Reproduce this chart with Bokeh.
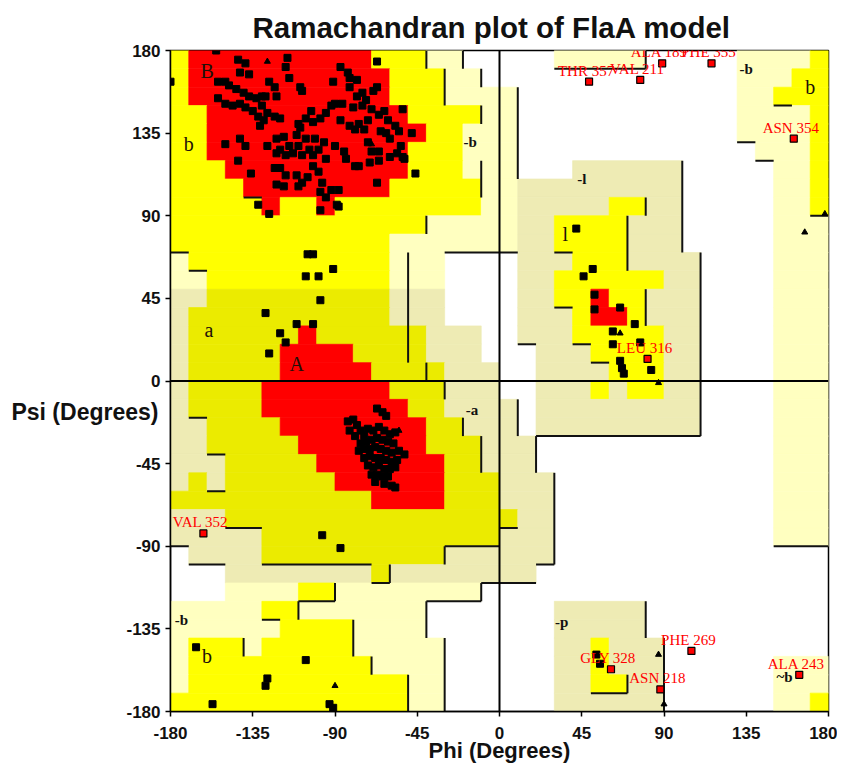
from bokeh.plotting import figure
from bokeh.models import FixedTicker, Span, PrintfTickFormatter
from bokeh.core.properties import value
from bokeh.embed import file_html
from bokeh.resources import INLINE

title_text = "Ramachandran plot of FlaA model"
x_label = "Phi (Degrees)"
y_label = "Psi (Degrees)"
ticks = [-180, -135, -90, -45, 0, 45, 90, 135, 180]

# 10-degree region map, top row = psi 170..180, columns phi -180..180
# R core, Y allowed, D allowed (tinted band), C generous, K generous (tinted), . disallowed
region_rows = [
    "YRRRRRRRRRRYYYCC.....CCCCC.....CCCCY",
    "YRRRRRRRRRRRYYYCC..............CCCYY",
    "YRRRRRRRRRRRYYYCCCC............CCYYY",
    "YYRRRRRRRRRRRYYYYCC............CCCCY",
    "YYRRRRRRRRRRRRYYCCC............CCCCY",
    "YYRRRRRRRRRRRYYYCCC.............CCCY",
    "YYYRRRRRRRRRRYYYCCC...KKKKKK.....CCY",
    "YYYYRRRRRRRRYYYYYCCKKKKKKKKK.....CCY",
    "YYYYYRYYRYYYYYYYYCCKKKKKYYKK.....CCY",
    "YYYYYYYYYYYYYYCCCCCKKYYYYKKK.....CCC",
    "YYYYYYYYYYYYCCCCCCCKKYYYYKKK.....CCC",
    "CYYYYYYYYYYYCCC....KKKYYYKKKK....CCC",
    "CCYYYYYYYYYYCCC....KKYYYYYYKK....CCC",
    "KKDDDDDDDDDDKKK....KKYYRYYKKK....CCC",
    "KDDDDDDDDDDDKKK....KKKYRRYKKK....CCC",
    "KDDDDDDRDDDDDDKKK..KKKYYYYYKK....CCC",
    "KDDDDDRRRRDDDDKKK...KKKYYYYKK....CCC",
    "KDDDDDRRRRRDDDDKKK..KKKKYYYKK....CCC",
    "KDDDDRRRRRRRDDDKKK..KKKYKYYKK....CCC",
    "KDDDDRRRRRRRRDDKKKK.KKKKKKKKK....CCC",
    "KKDDDDRRRRRRRRDDKKK.KKKKKKKKK....CCC",
    "KKDDDDDRRRRRRRDDDKKK.............CCC",
    "KKKDDDDDRRRRRRRDDKKK.............CCC",
    "KDKDDDDDDRRRRRRDDDKKK............CCC",
    "DDDDDDDDDDDRRRRDDDKKK............CCC",
    "KKKDDDDDDDDDDDDDDDDKK............CCC",
    "KKKKKDDDDDDDDDDDDDKKK............CCC",
    ".KKKKDDDDDDDDDDKKKKKK...............",
    "...KKKKKKKKDKKKKKKKK................",
    "...CCCCYYCCCCCCCC...................",
    "CCCCCYYCCCCCCC.......KKKKK..........",
    "CCCCCCYYYYCCCC.......KKKKK..........",
    "CYYYCYYYYYCCCCC......KKYKKK.........",
    "CYYYYYYYYYYCCCC......KKYKKK......CCC",
    "CYYYYYYYYYYYYCC......KKYYKK......CCC",
    "YYYYYYYYYYYYYCC......KKKKKK......CCY",
]
region_colors = {"R": "#FF0000", "Y": "#FFFF00", "D": "#EBEB00",
                 "C": "#FFFFC0", "K": "#EEEBB4"}

# boundary segments (phi0, psi0, phi1, psi1)
boundary_segments = [
    (-40, 180, -40, 170), (-20, 180, -20, 170), (-30, 170, -30, 150),
    (-10, 170, -10, 160), (-10, 150, -10, 140), (-10, 120, -10, 100),
    (-40, 90, -40, 80), (-30, 70, 0, 70), (-50, 70, -50, 10),
    (-180, 70, -170, 70), (-170, 60, -160, 60), (-140, 100, -130, 100),
    (-40, 10, -40, 0), (-30, 0, -30, -10), (-20, -20, -20, -30),
    (-10, -30, -10, -50), (-170, -20, -160, -20), (-160, -40, -150, -40),
    (-160, -60, -150, -60), (-150, -80, -130, -80), (-130, -100, -70, -100),
    (-170, -100, -150, -100), (-180, -90, -170, -90), (-60, -100, -60, -110),
    (-30, -90, -30, -100), (-40, -120, -10, -120), (-90, -110, -90, -120),
    (-110, -120, -110, -130),
    (-70, -110, -60, -110), (-30, -90, 0, -90), (-110, -120, -90, -120),
    (-130, -130, -120, -130), (-140, -140, -140, -150), (-80, -130, -80, -150),
    (-70, -150, -70, -160), (-50, -160, -50, -180), (-30, -140, -30, -180),
    (-40, -120, -40, -140), (-10, -110, 0, -110), (-10, -110, -10, -120),
    (0, 70, 10, 70), (10, 160, 10, 110), (70, 90, 70, 60), (80, 100, 80, 90),
    (80, 50, 80, 30), (100, 120, 100, 70), (110, 70, 110, -30), (20, -30, 110, -30),
    (30, 70, 40, 70), (30, 40, 40, 40), (40, 20, 50, 20), (50, 10, 60, 10),
    (130, 130, 140, 130),
    (140, 120, 150, 120), (150, 150, 160, 150), (170, 90, 180, 90),
    (150, -90, 180, -90), (10, -10, 10, -30), (20, -30, 20, -50),
    (30, -50, 30, -100), (20, -100, 30, -100), (0, -110, 20, -110),
    (0, -80, 10, -80), (80, -120, 80, -140), (90, -140, 90, -180),
    (50, -170, 70, -170), (70, -160, 70, -170), (30, 170, 80, 170),
    (80, 180, 80, 170), (10, 20, 20, 20),
]

# residues (phi, psi)
residues = [
    (-155, 180), (-180, 163), (-143, 175), (-139, 173), (-142, 168), (-137, 167),
    (-116, 176), (-117, 171), (-115, 165), (-154, 163), (-150, 163), (-148, 161),
    (-144, 159), (-140, 157), (-137, 155), (-133, 154), (-130, 155), (-126, 163),
    (-123, 160), (-128, 155), (-122, 155), (-154, 154), (-150, 151), (-146, 150),
    (-142, 151), (-139, 149), (-135, 147), (-130, 150), (-127, 146), (-123, 144),
    (-120, 143), (-132, 144), (-129, 142), (-131, 139), (-150, 129), (-142, 132),
    (-139, 128), (-143, 120), (-136, 113), (-127, 128), (-122, 132), (-120, 126),
    (-118, 133), (-115, 128), (-122, 124), (-117, 123), (-113, 124), (-110, 128),
    (-111, 134), (-110, 140), (-109, 138), (-106, 132), (-104, 126), (-108, 123),
    (-102, 123), (-99, 126), (-96, 130), (-101, 132), (-123, 116), (-120, 116),
    (-117, 112), (-111, 112), (-108, 108), (-102, 117), (-99, 114), (-95, 121),
    (-90, 128), (-84, 121), (-79, 117), (-85, 125), (-122, 107), (-118, 106),
    (-110, 106), (-105, 111), (-98, 103), (-95, 100), (-97, 108), (-92, 104),
    (-88, 104), (-132, 96), (-126, 91), (-98, 93), (-89, 96), (-88, 95),
    (-109, 160), (-108, 158), (-103, 147), (-106, 143), (-102, 141), (-98, 143),
    (-95, 146), (-92, 150), (-90, 151), (-91, 163), (-87, 171), (-83, 168),
    (-82, 165), (-78, 164), (-82, 160), (-78, 155), (-75, 157), (-73, 153),
    (-69, 158), (-67, 160), (-75, 150), (-80, 149), (-86, 151), (-87, 142),
    (-82, 139), (-79, 137), (-77, 140), (-74, 137), (-72, 142), (-70, 148),
    (-66, 145), (-63, 147), (-61, 142), (-57, 139), (-55, 136), (-53, 148),
    (-48, 135), (-65, 136), (-62, 135), (-60, 132), (-72, 130), (-70, 125),
    (-66, 125), (-77, 117), (-71, 119), (-66, 120), (-60, 122), (-56, 124),
    (-54, 128), (-53, 122), (-52, 121), (-67, 108), (-46, 113), (-67, 174),
    (-102, 69), (-105, 69), (-106, 57), (-99, 57), (-91, 61), (-98, 44),
    (-128, 37), (-111, 31), (-102, 31), (-120, 26), (-117, 21), (-126, 15),
    (-67, -15), (-64, -17), (-62, -19), (-83, -22), (-80, -21), (-78, -24),
    (-76, -27), (-82, -27), (-79, -30), (-74, -30), (-72, -26), (-69, -27),
    (-66, -25), (-63, -27), (-60, -29), (-57, -28), (-76, -34), (-73, -33),
    (-70, -32), (-67, -31), (-64, -32), (-61, -33), (-58, -34), (-77, -38),
    (-74, -37), (-71, -37), (-68, -36), (-65, -37), (-62, -38), (-59, -39),
    (-55, -38), (-52, -40), (-74, -42), (-71, -41), (-68, -42), (-65, -42),
    (-62, -43), (-59, -44), (-56, -43), (-72, -46), (-69, -47), (-66, -46),
    (-63, -48), (-60, -48), (-57, -47), (-70, -51), (-67, -51), (-64, -52),
    (-61, -52), (-68, -55), (-63, -56), (-59, -57), (-57, -58),
    (-97, -84), (-87, -91), (-166, -145), (-157, -176), (-128, -166),
    (-127, -162), (-106, -152), (-93, -176), (-91, -178),
    (42, 83), (51, 61), (46, 57), (52, 47), (52, 39), (66, 40), (74, 31),
    (62, 27), (62, 20), (77, 21), (66, 11), (67, 7), (68, 4), (83, 6),
    (53, -149), (55, -154),
]
glycines = [
    (-127, 174), (-78, 117), (-70, 129), (-55, -27), (-90, -166), (66, 26),
    (87, -1), (178, 91), (167, 81), (87, -149), (90, -176),
]
flagged_names = ["VAL 352", "THR 357", "VAL 211", "ALA 189", "PHE 355", "ASN 354",
                 "LEU 316", "GLY 328", "PHE 269", "ASN 218", "ALA 243"]
flagged_phi = [-162, 49, 77, 89, 116, 161, 81, 61, 105, 88, 164]
flagged_psi = [-83, 163, 164, 173, 173, 132, 12, -157, -147, -168, -160]

region_names = ["B", "b", "a", "A", "l", "b", "b"]
region_phi = [-160, -170, -159, -111, 36, 170, -160]
region_psi = [169, 129, 28, 9, 80, 160, -150]
minor_region_names = ["-b", "-a", "-l", "-b", "-b", "-p", "~b"]
minor_region_phi = [-16, -15, 45, 135, -174, 34, 156]
minor_region_psi = [130, -16, 110, 170, -130, -131, -161]

p = figure(frame_width=658, frame_height=661, x_range=(-180, 180), y_range=(-180, 180),
           output_backend="svg", toolbar_location=None,
           min_border_left=170, min_border_top=50, min_border_bottom=57, min_border_right=9,
           background_fill_color="white", border_fill_color="white")

# region cells, merged in horizontal runs
ql, qr, qt, qb, qc = [], [], [], [], []
for j, row in enumerate(region_rows):
    top = 180 - 10 * j
    k = 0
    while k < len(row):
        ch = row[k]
        k2 = k
        while k2 < len(row) and row[k2] == ch:
            k2 += 1
        if ch in region_colors:
            ql.append(-180 + 10 * k)
            qr.append(-180 + 10 * k2)
            qt.append(top)
            qb.append(top - 10)
            qc.append(region_colors[ch])
        k = k2
p.quad(left=ql, right=qr, top=qt, bottom=qb, fill_color=qc, line_color=qc, line_width=0.7)

p.segment(x0=[s[0] for s in boundary_segments], y0=[s[1] for s in boundary_segments],
          x1=[s[2] for s in boundary_segments], y1=[s[3] for s in boundary_segments],
          line_color="#111111", line_width=2)

p.add_layout(Span(location=0, dimension="height", line_color="black", line_width=2))
p.add_layout(Span(location=0, dimension="width", line_color="black", line_width=2))

serif = value("Liberation Serif")
p.text(x=region_phi, y=region_psi, text=region_names, text_font=serif, text_font_size="20px",
       text_color="#201008", text_align="center", text_baseline="middle")
p.text(x=minor_region_phi, y=minor_region_psi, text=minor_region_names, text_font=serif,
       text_font_size="15px", text_font_style="bold", text_color="#111111",
       text_align="center", text_baseline="middle")

p.scatter(x=[r[0] for r in residues], y=[r[1] for r in residues], marker="square", size=7,
          fill_color="black", line_color="black")
p.scatter(x=[g[0] for g in glycines], y=[g[1] for g in glycines], marker="triangle", size=6,
          fill_color="black", line_color="black")
p.scatter(x=flagged_phi, y=flagged_psi, marker="square", size=7, fill_color="#FF0000",
          line_color="black", line_width=1.2)
p.text(x=flagged_phi, y=flagged_psi, text=flagged_names, text_font=serif, text_font_size="15px",
       text_color="#FF0000", text_align="center", text_baseline="middle", x_offset=-3, y_offset=-11)

p.xgrid.visible = False
p.ygrid.visible = False
p.outline_line_color = "black"
p.outline_line_width = 1.5
for ax in (p.xaxis[0], p.yaxis[0]):
    ax.ticker = FixedTicker(ticks=ticks)
    ax.formatter = PrintfTickFormatter(format="%d")
    ax.major_label_text_font = "Liberation Sans"
    ax.major_label_text_font_style = "bold"
    ax.major_label_text_font_size = "17px"
    ax.major_label_text_color = "#111111"
    ax.minor_tick_line_color = None
    ax.major_tick_in = 0
    ax.major_tick_out = 5
    ax.major_tick_line_width = 1.5
    ax.axis_line_width = 1.5
    ax.axis_label_text_font = "Liberation Sans"
    ax.axis_label_text_font_style = "bold"
    ax.axis_label_text_color = "#111111"
p.xaxis.major_label_standoff = 10
p.yaxis.major_label_standoff = 5
p.xaxis.axis_label = x_label
p.xaxis.axis_label_text_font_size = "22px"
p.xaxis.axis_label_standoff = -4
p.yaxis.axis_label = "\n\n" + y_label
p.yaxis.axis_label_text_font_size = "23px"
p.yaxis.axis_label_orientation = "horizontal"
p.yaxis.axis_label_standoff = -35

p.title.text = title_text
p.title.align = "left"
p.title.offset = 82
p.title.standoff = 13
p.title.text_font = "Liberation Sans"
p.title.text_font_style = "bold"
p.title.text_font_size = "29.5px"
p.title.text_color = "#111111"

open("out.html", "w").write(file_html(p, INLINE))
